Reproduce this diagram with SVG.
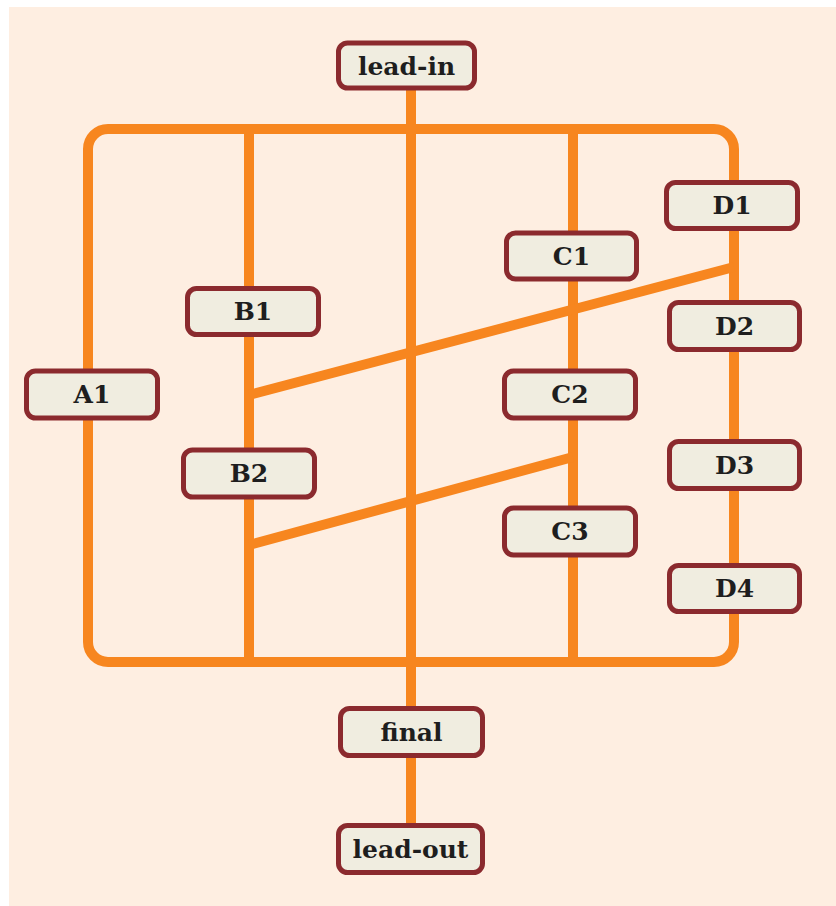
<svg xmlns="http://www.w3.org/2000/svg" width="836" height="906" viewBox="0 0 836 906">
<style>
.wire{stroke:#F7861F;stroke-width:10;fill:none}
.node rect{fill:#F0EDE0;stroke:#8B2A2E;stroke-width:5}
.node text{font-family:"DejaVu Serif","Liberation Serif",serif;font-weight:bold;font-size:25px;fill:#1E1E1E;text-anchor:middle;dominant-baseline:central}
</style>
<rect x="9" y="7" width="827" height="899" fill="#FEEEE1"/>
<g id="connectors">
<rect class="wire" x="88" y="129" width="646" height="533" rx="20"/>
<line class="wire" x1="411" y1="88" x2="411" y2="825"/>
<line class="wire" x1="249" y1="129" x2="249" y2="662"/>
<line class="wire" x1="573" y1="129" x2="573" y2="662"/>
<line class="wire" x1="734" y1="267" x2="249" y2="395"/>
<line class="wire" x1="573" y1="457" x2="249" y2="545"/>
</g>
<g id="lead-in" class="node"><rect x="338.5" y="43" width="136" height="45" rx="9"/><text x="406.5" y="66">lead-in</text></g>
<g id="D1" class="node"><rect x="666.5" y="182.5" width="131" height="46" rx="9"/><text x="732" y="205.5">D1</text></g>
<g id="C1" class="node"><rect x="506.5" y="233" width="130" height="46" rx="9"/><text x="571.5" y="256">C1</text></g>
<g id="B1" class="node"><rect x="187.5" y="288.5" width="131" height="46" rx="9"/><text x="253" y="311.5">B1</text></g>
<g id="D2" class="node"><rect x="669.5" y="302.5" width="130" height="47" rx="9"/><text x="734.5" y="326">D2</text></g>
<g id="A1" class="node"><rect x="26.5" y="371" width="131" height="47" rx="9"/><text x="92" y="394.5">A1</text></g>
<g id="C2" class="node"><rect x="504.5" y="371" width="131" height="47" rx="9"/><text x="570" y="394.5">C2</text></g>
<g id="D3" class="node"><rect x="669.5" y="441.5" width="130" height="47" rx="9"/><text x="734.5" y="465">D3</text></g>
<g id="B2" class="node"><rect x="183.5" y="450" width="131" height="47" rx="9"/><text x="249" y="473.5">B2</text></g>
<g id="C3" class="node"><rect x="504.5" y="508" width="131" height="47" rx="9"/><text x="570" y="531.5">C3</text></g>
<g id="D4" class="node"><rect x="669.5" y="565.5" width="130" height="46" rx="9"/><text x="734.5" y="588.5">D4</text></g>
<g id="final" class="node"><rect x="340.5" y="708.5" width="142" height="47" rx="9"/><text x="411.5" y="732">final</text></g>
<g id="lead-out" class="node"><rect x="338.5" y="825.5" width="144" height="47" rx="9"/><text x="410.5" y="849">lead-out</text></g>
</svg>
